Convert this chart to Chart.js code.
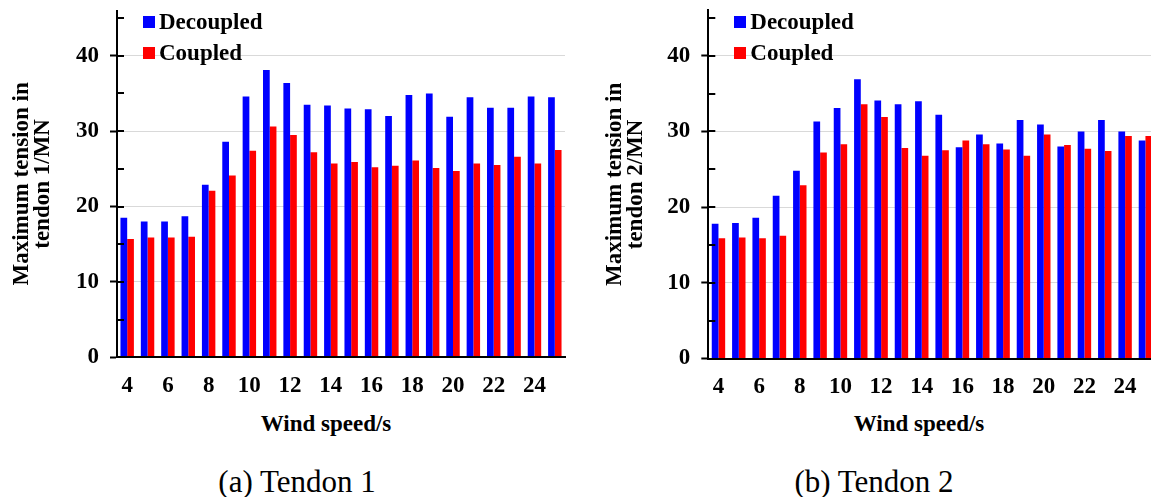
<!DOCTYPE html>
<html>
<head>
<meta charset="utf-8">
<title>Maximum tendon tension: decoupled vs coupled</title>
<script src="https://cdn.jsdelivr.net/npm/chart.js@4/dist/chart.umd.min.js"></script>
<style>
  html, body { margin: 0; padding: 0; background: #fff; overflow: hidden; }
  #page { position: relative; width: 1151px; height: 497px; overflow: hidden; background: #fff;
          font-family: 'Liberation Serif', 'Times New Roman', serif; color: #000; }
  canvas { position: absolute; top: 0; }
  .swatch { position: absolute; width: 12px; height: 12px; }
  .legend-text { position: absolute; font-weight: bold; font-size: 23px; line-height: 23px; white-space: nowrap; }
  .xtitle { position: absolute; font-weight: bold; font-size: 23px; line-height: 23px; white-space: nowrap; transform: translateX(-50%); }
  .caption { position: absolute; font-size: 31px; line-height: 31px; white-space: nowrap; transform: translateX(-50%); }
</style>
</head>
<body>
<div id="page">
  <canvas id="tendon1" width="590" height="410" style="left:0px"></canvas>
  <canvas id="tendon2" width="600" height="410" style="left:590px"></canvas>
  <div class="xtitle" style="left:326px; top:412px">Wind speed/s</div>
  <div class="xtitle" style="left:919px; top:412px">Wind speed/s</div>
  <div class="caption" style="left:297px; top:466px">(a) Tendon 1</div>
  <div class="caption" style="left:874px; top:466px">(b) Tendon 2</div>
</div>
<script>
// Wind speed categories (m/s)
const windSpeeds = ['4', '5', '6', '7', '8', '9', '10', '11', '12', '13', '14',
                    '15', '16', '17', '18', '19', '20', '21', '22', '23', '24', '25'];

// Maximum tension in tendon 1 (MN)
const tendon1Decoupled = [18.5, 18.0, 18.0, 18.7, 22.9, 28.6, 34.6, 38.1, 36.4, 33.5, 33.4,
                          33.0, 32.9, 32.0, 34.8, 35.0, 31.9, 34.5, 33.1, 33.1, 34.6, 34.5];
const tendon1Coupled   = [15.7, 15.9, 15.9, 16.0, 22.1, 24.1, 27.4, 30.6, 29.5, 27.2, 25.7,
                          25.9, 25.2, 25.4, 26.1, 25.1, 24.7, 25.7, 25.5, 26.6, 25.7, 27.5];

// Maximum tension in tendon 2 (MN)
const tendon2Decoupled = [17.8, 17.9, 18.6, 21.5, 24.8, 31.3, 33.1, 36.9, 34.1, 33.6, 34.0,
                          32.2, 27.9, 29.6, 28.4, 31.5, 30.9, 28.0, 30.0, 31.5, 30.0, 28.8];
const tendon2Coupled   = [15.9, 16.0, 15.9, 16.2, 22.9, 27.2, 28.3, 33.6, 31.9, 27.8, 26.8,
                          27.5, 28.8, 28.3, 27.6, 26.8, 29.6, 28.2, 27.7, 27.4, 29.4, 29.4];

// Y axis range and ticks
const yMin = 0;
const yMax = 46;
const yLabelStep = 10;
const yMinorStep = 5;

const seriesNames = ['Decoupled', 'Coupled'];
const seriesColors = ['#0000ff', '#ff0000'];

const FONT = "'Liberation Serif', 'Times New Roman', serif";

// Short inward tick marks every 5 MN along the y axis
const innerTicks = {
  id: 'innerTicks',
  afterDraw(chart) {
    const y = chart.scales.y;
    const ctx = chart.ctx;
    const left = chart.chartArea.left;
    ctx.save();
    ctx.strokeStyle = '#000';
    ctx.lineWidth = 2;
    for (let v = yMin; v <= yMax; v += yMinorStep) {
      const py = Math.round(y.getPixelForValue(v));
      ctx.beginPath();
      ctx.moveTo(left, py);
      ctx.lineTo(left + 7, py);
      ctx.stroke();
    }
    ctx.restore();
  }
};

function buildChart(canvasId, titleLines, decoupled, coupled, box) {
  const canvas = document.getElementById(canvasId);
  const W = canvas.width, H = canvas.height;
  const boldFont = { family: FONT, size: 23, weight: 'bold', lineHeight: 1 };

  const chart = new Chart(canvas, {
    type: 'bar',
    data: {
      labels: windSpeeds,
      datasets: [decoupled, coupled].map((values, i) => ({
        label: seriesNames[i],
        data: values,
        backgroundColor: seriesColors[i],
        borderWidth: 0,
        categoryPercentage: 0.66,
        barPercentage: 1.0
      }))
    },
    options: {
      responsive: false,
      animation: false,
      devicePixelRatio: 1,
      layout: { padding: { left: 0, top: box.top, right: W - box.right, bottom: 0 } },
      plugins: { legend: { display: false }, tooltip: { enabled: false } },
      scales: {
        x: {
          type: 'category',
          offset: true,
          grid: { display: false, drawTicks: false },
          border: { display: true, color: '#000', width: 2, z: 1 },
          ticks: {
            autoSkip: false,
            maxRotation: 0,
            padding: 17,
            color: '#000',
            font: boldFont,
            callback(value, index) { return index % 2 === 0 ? this.getLabelForValue(value) : ''; }
          },
          afterFit(scale) {
            scale.height = H - box.bottom;
            scale.paddingLeft = 0;
            scale.paddingRight = 0;
          }
        },
        y: {
          min: yMin,
          max: yMax,
          ticks: {
            stepSize: yLabelStep,
            includeBounds: false,
            padding: 11,
            color: '#000',
            font: boldFont
          },
          grid: {
            color: (c) => (c.tick && c.tick.value === 0) ? 'rgba(0,0,0,0)' : '#d9d9d9',
            lineWidth: 1,
            drawTicks: true,
            tickLength: 7,
            tickWidth: 2,
            tickColor: '#000'
          },
          border: { display: true, color: '#000', width: 2, z: 1 },
          title: {
            display: true,
            text: titleLines,
            color: '#000',
            font: { family: FONT, size: 23, weight: 'bold', lineHeight: 0.93 },
            padding: { top: box.titlePad, bottom: 0 }
          },
          afterFit(scale) {
            scale.width = box.left;
            scale.paddingTop = 0;
            scale.paddingBottom = 0;
          }
        }
      }
    },
    plugins: [innerTicks]
  });

  // Legend: coloured squares with series names, placed inside the plot area
  const page = document.getElementById('page');
  const originX = canvas.offsetLeft + chart.chartArea.left;
  chart.data.datasets.forEach((ds, i) => {
    const sw = document.createElement('div');
    sw.className = 'swatch';
    sw.style.background = ds.backgroundColor;
    sw.style.left = (originX + 26) + 'px';
    sw.style.top = (16 + 31 * i) + 'px';
    page.appendChild(sw);
    const tx = document.createElement('div');
    tx.className = 'legend-text';
    tx.textContent = ds.label;
    tx.style.left = (originX + 42) + 'px';
    tx.style.top = (10 + 31 * i) + 'px';
    page.appendChild(tx);
  });
  return chart;
}

buildChart('tendon1', ['Maximum tension in', 'tendon 1/MN'], tendon1Decoupled, tendon1Coupled,
           { left: 117, right: 565, top: 10.5, bottom: 357.3, titlePad: 11 });
buildChart('tendon2', ['Maximum tension in', 'tendon 2/MN'], tendon2Decoupled, tendon2Coupled,
           { left: 118.3, right: 565.6, top: 10.3, bottom: 358.5, titlePad: 14.3 });
</script>
</body>
</html>
